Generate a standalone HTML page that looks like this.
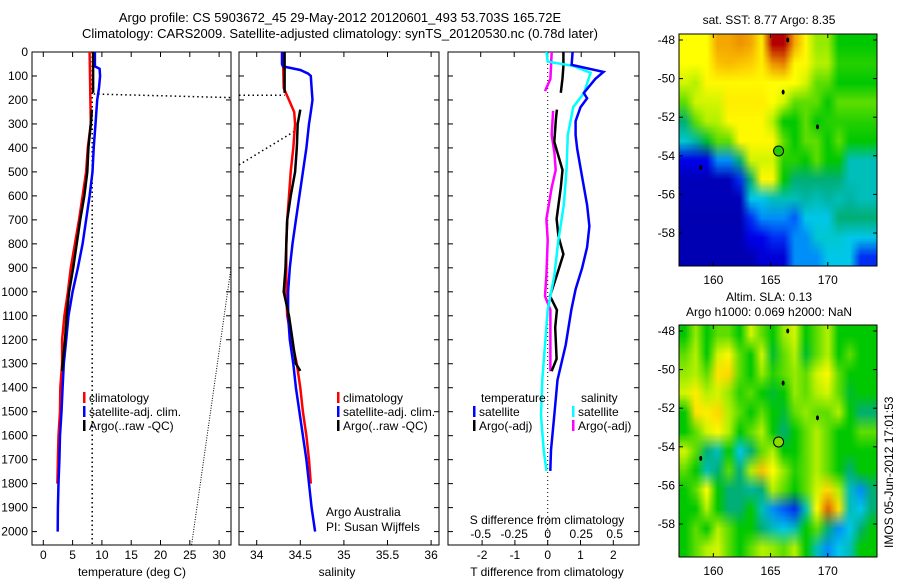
<!DOCTYPE html>
<html><head><meta charset="utf-8"><style>
html,body{margin:0;padding:0;background:#fff;}
#wrap{position:relative;width:900px;height:580px;overflow:hidden;font-family:"Liberation Sans",sans-serif;}
canvas{position:absolute;}
svg{position:absolute;left:0;top:0;}
svg text{font-family:"Liberation Sans",sans-serif;font-size:12px;fill:#000;}
</style></head><body>
<div id="wrap">
<canvas id="sstMap" style="left:679px;top:34px;width:198px;height:232px" width="198" height="232"></canvas>
<canvas id="slaMap" style="left:679px;top:325px;width:198px;height:232px" width="198" height="232"></canvas>
<svg id="fig" width="900" height="580" xmlns="http://www.w3.org/2000/svg"></svg>
</div>
<script>
// ---------- data ----------
const depthTicks = [0,100,200,300,400,500,600,700,800,900,1000,1100,1200,1300,1400,1500,1600,1700,1800,1900,2000];
const tempTicks = [0,5,10,15,20,25,30];
const salTicks = [34,34.5,35,35.5,36];
const salTickLabels = ["34","34.5","35","35.5","36"];
const tdiffTicks = [-2,-1,0,1,2];
const sdiffTicks = [-0.5,-0.25,0,0.25,0.5];
const sdiffTickLabels = ["-0.5","-0.25","0","0.25","0.5"];
const mapLatTicks = [-48,-50,-52,-54,-56,-58];
const mapLonTicks = [160,165,170];

const climTempDepth = [0,300,400,500,600,700,800,900,1000,1100,1200,1300,1400,1500,1600,1700,1800];
const climTemp = [7.9,8.1,7.6,7.3,6.7,6.1,5.4,4.7,4.2,3.6,3.2,3.2,2.9,2.85,2.6,2.5,2.4];
const satTempDepth = [0,60,70,100,150,200,300,400,500,600,700,800,900,1000,1100,1200,1300,1400,1500,1600,1700,1800,1900,2000];
const satTemp = [8.8,8.8,9.6,9.7,9.5,9.2,8.9,8.6,8.4,7.9,7.3,6.7,5.9,5.0,4.3,3.9,3.5,3.3,3.1,2.85,2.75,2.6,2.5,2.45];
const argoTempDepthA = [0,170];
const argoTempA = [8.5,8.5];
const argoTempDepthB = [240,300,400,500,600,700,800,900,1000,1100,1200,1300,1330];
const argoTempB = [8.3,8.1,7.7,7.5,7.0,6.3,5.7,5.1,4.4,4.0,3.7,3.3,3.2];

const climSalDepth = [0,150,200,250,300,400,500,600,700,800,900,1000,1100,1200,1300,1400,1500,1600,1700,1800];
const climSal = [34.30,34.31,34.37,34.43,34.44,34.42,34.39,34.37,34.35,34.34,34.34,34.34,34.35,34.40,34.46,34.50,34.53,34.57,34.60,34.62];
const satSalDepth = [0,50,60,75,90,100,150,200,250,300,400,500,600,700,800,900,1000,1100,1200,1300,1400,1500,1600,1700,1800,1900,2000];
const satSal = [34.29,34.29,34.30,34.50,34.59,34.62,34.63,34.64,34.62,34.60,34.57,34.53,34.49,34.45,34.41,34.38,34.36,34.36,34.38,34.42,34.45,34.49,34.53,34.57,34.60,34.63,34.67];
const argoSalDepthA = [0,170];
const argoSalA = [34.32,34.32];
const argoSalDepthB = [240,300,400,500,600,700,800,900,1000,1100,1200,1300,1330];
const argoSalB = [34.50,34.47,34.46,34.44,34.39,34.35,34.34,34.33,34.31,34.37,34.41,34.45,34.50];

const tdSatDepth = [0,54,83,112,171,193,230,288,346,404,521,638,726,814,901,989,1076,1222,1368,1514,1660,1747];
const tdSat = [0.76,0.73,1.70,1.45,1.10,1.20,1.00,0.85,0.85,0.90,1.05,1.20,1.27,1.20,1.05,0.85,0.72,0.55,0.30,0.20,0.10,0.08];
const sdSatDepth = [0,40,58,87,171,230,346,492,638,784,930,1076,1222,1368,1514,1660,1747];
const sdSat = [-0.01,0.0,0.19,0.32,0.27,0.19,0.15,0.14,0.12,0.08,0.05,0.0,-0.02,-0.04,-0.05,-0.03,-0.01];
const tdArgoDepthA = [0,60,110,170];
const tdArgoA = [0.48,0.48,0.45,0.40];
const tdArgoDepthB = [240,280,375,492,565,696,770,843,930,1018,1076,1149,1280,1331];
const tdArgoB = [0.28,0.25,0.20,0.45,0.40,0.27,0.33,0.48,0.28,0.07,0.28,0.23,0.27,0.12];
const sdArgoDepthA = [0,112,163];
const sdArgoA = [0.03,0.02,-0.02];
const sdArgoDepthB = [245,346,419,492,565,696,784,930,1018,1076,1222,1331];
const sdArgoB = [0.04,0.03,0.05,0.06,0.03,-0.01,0.0,-0.01,-0.02,0.02,0.02,0.02];

const sstGrid = [
[0.65,0.65,0.65,0.78,0.78,0.80,0.78,0.68,0.95,0.95,0.78,0.66,0.58,0.58,0.50,0.50,0.50,0.50],
[0.65,0.65,0.65,0.75,0.76,0.75,0.74,0.68,0.80,0.82,0.66,0.66,0.60,0.60,0.52,0.52,0.52,0.52],
[0.62,0.60,0.66,0.66,0.66,0.66,0.66,0.66,0.65,0.65,0.65,0.62,0.55,0.55,0.50,0.50,0.50,0.50],
[0.55,0.62,0.62,0.62,0.68,0.68,0.68,0.68,0.65,0.62,0.55,0.55,0.55,0.50,0.55,0.55,0.55,0.55],
[0.45,0.55,0.60,0.60,0.66,0.66,0.66,0.66,0.60,0.50,0.50,0.55,0.50,0.52,0.52,0.52,0.52,0.52],
[0.38,0.42,0.48,0.55,0.55,0.66,0.66,0.66,0.66,0.55,0.50,0.55,0.55,0.50,0.55,0.50,0.50,0.50],
[0.15,0.15,0.15,0.30,0.30,0.45,0.62,0.62,0.62,0.52,0.52,0.50,0.55,0.50,0.50,0.40,0.40,0.40],
[0.08,0.08,0.08,0.08,0.08,0.20,0.45,0.66,0.66,0.50,0.45,0.45,0.45,0.45,0.45,0.40,0.40,0.40],
[0.08,0.08,0.08,0.08,0.08,0.08,0.35,0.35,0.40,0.40,0.40,0.42,0.40,0.42,0.40,0.42,0.40,0.40],
[0.07,0.07,0.07,0.07,0.07,0.07,0.20,0.30,0.30,0.30,0.25,0.35,0.35,0.35,0.45,0.45,0.45,0.45],
[0.07,0.07,0.07,0.07,0.07,0.07,0.15,0.15,0.20,0.20,0.30,0.30,0.38,0.38,0.38,0.35,0.35,0.35],
[0.07,0.07,0.07,0.07,0.07,0.07,0.07,0.12,0.12,0.12,0.30,0.30,0.30,0.35,0.35,0.35,0.20,0.20]];
const slaGrid = [
[0.50,0.58,0.50,0.55,0.55,0.50,0.62,0.55,0.50,0.58,0.62,0.50,0.55,0.60,0.50,0.50,0.50,0.50],
[0.55,0.60,0.50,0.62,0.66,0.55,0.50,0.62,0.48,0.55,0.60,0.48,0.55,0.60,0.50,0.55,0.50,0.50],
[0.58,0.60,0.55,0.70,0.72,0.55,0.50,0.58,0.52,0.55,0.58,0.55,0.62,0.66,0.55,0.50,0.50,0.50],
[0.62,0.68,0.60,0.62,0.58,0.52,0.55,0.50,0.48,0.50,0.58,0.55,0.60,0.62,0.55,0.48,0.50,0.50],
[0.50,0.70,0.68,0.72,0.60,0.55,0.50,0.55,0.50,0.48,0.55,0.58,0.55,0.55,0.60,0.50,0.45,0.45],
[0.50,0.55,0.62,0.66,0.60,0.50,0.55,0.60,0.50,0.45,0.50,0.55,0.60,0.55,0.50,0.50,0.55,0.55],
[0.62,0.55,0.45,0.40,0.50,0.35,0.45,0.55,0.60,0.50,0.50,0.55,0.60,0.55,0.50,0.50,0.50,0.50],
[0.55,0.50,0.40,0.45,0.55,0.45,0.60,0.75,0.65,0.58,0.52,0.55,0.60,0.55,0.50,0.45,0.50,0.50],
[0.50,0.55,0.65,0.50,0.45,0.45,0.42,0.45,0.60,0.55,0.50,0.55,0.62,0.72,0.60,0.40,0.30,0.45],
[0.50,0.50,0.60,0.50,0.45,0.45,0.50,0.40,0.30,0.25,0.20,0.40,0.65,0.85,0.70,0.40,0.35,0.45],
[0.50,0.55,0.50,0.60,0.55,0.50,0.50,0.45,0.40,0.35,0.40,0.50,0.55,0.45,0.30,0.35,0.45,0.50],
[0.50,0.55,0.60,0.62,0.55,0.50,0.55,0.60,0.58,0.55,0.60,0.50,0.40,0.30,0.35,0.40,0.50,0.50]];
const floatLon = 165.7, floatLat = -53.75;
const islandLon = [166.1,169.1,158.9,166.5];
const islandLat = [-50.7,-52.5,-54.6,-48.0];

// ---------- geometry ----------
const NS='http://www.w3.org/2000/svg';
const svg=document.getElementById('fig');
const TOP=52, BOT=545;
const yD = d => 52 + d*0.2398;
const P1={l:32,r:231}, P2={l:239,r:439}, P3={l:448,r:639};
const xT = t => 43.3 + 5.86*t;
const xS = s => 256.7 + 87.2*(s-34);
const xTd = t => 547.7 + 32.8*t;
const xSd = s => 547.7 + 134*s;
const M={l:679,r:877,lon0:157,lon1:174.3};
const mx = lon => M.l + (lon-M.lon0)*(M.r-M.l)/(M.lon1-M.lon0);
const my = (top,lat) => top + 6 + (-48-lat)*19.3;

function el(tag,attrs,parent){const e=document.createElementNS(NS,tag);for(const k in attrs)e.setAttribute(k,attrs[k]);(parent||svg).appendChild(e);return e;}
function txt(x,y,s,anchor,name,size){const t=el('text',{x:x,y:y,'text-anchor':anchor||'start'});if(size)t.setAttribute('style','font-size:'+size+'px');t.textContent=s;


return t;}
function line(xs,ys,color,w,dash,name){const pts=xs.map((x,i)=>x.toFixed(1)+','+ys[i].toFixed(1)).join(' ');
const p=el('polyline',{points:pts,fill:'none',stroke:color,'stroke-width':w});if(dash)p.setAttribute('stroke-dasharray',dash);


return p;}

// titles
txt(340,22,'Argo profile: CS 5903672_45 29-May-2012 20120601_493 53.703S 165.72E','middle','title-line-1',13);
txt(340,38,'Climatology: CARS2009. Satellite-adjusted climatology: synTS_20120530.nc (0.78d later)','middle','title-line-2',13);

// panel frames and depth ticks
[[P1,'temperature-panel'],[P2,'salinity-panel'],[P3,'difference-panel']].forEach(([p,n])=>{
  const r=el('rect',{x:p.l,y:TOP,width:p.r-p.l,height:BOT-TOP,fill:'none',stroke:'#000','stroke-width':1});
  
  
  depthTicks.forEach(d=>{const y=yD(d);
    el('line',{x1:p.l,x2:p.l+5,y1:y,y2:y,stroke:'#000'});el('line',{x1:p.r-5,x2:p.r,y1:y,y2:y,stroke:'#000'});});
});
depthTicks.forEach(d=>txt(28,yD(d)+4,String(d),'end','depth-tick-label'));
function xticks(vals,fx,labels,ly,name,top){vals.forEach((v,i)=>{const x=fx(v);
  el('line',{x1:x,x2:x,y1:BOT,y2:BOT-5,stroke:'#000'});if(top)el('line',{x1:x,x2:x,y1:TOP,y2:TOP+5,stroke:'#000'});
  txt(x,ly,labels?labels[i]:String(v),'middle',name);});}
xticks(tempTicks,xT,null,559,'temp-tick-label',true);
xticks(salTicks,xS,salTickLabels,559,'sal-tick-label',true);
xticks(tdiffTicks,xTd,null,559,'tdiff-tick-label',false);
sdiffTicks.forEach((v,i)=>{const x=xSd(v);el('line',{x1:x,x2:x,y1:TOP,y2:TOP+5,stroke:'#000'});txt(x,538,sdiffTickLabels[i],'middle','sdiff-tick-label');});
txt(132,576,'temperature (deg C)','middle','temp-axis-title');
txt(337,576,'salinity','middle','sal-axis-title');
txt(547,576,'T difference from climatology','middle','tdiff-axis-title');
txt(547,524,'S difference from climatology','middle','sdiff-axis-title');

// panel 1
line([xT(8.35),xT(8.35)],[TOP,BOT],'#000',1.5,'1.5,3','argo-sst-reference-line');
line([xT(8.6),P1.r],[yD(175),yD(190)],'#000',1.5,'1.5,3','sst-dotted-line');
line([xT(25.3),P1.r],[yD(2055),yD(900)],'#000',1,'1,1.5','sigma-dotted-line');
line(climTemp.map(xT),climTempDepth.map(yD),'#ff0000',2.5,null,'climatology-temp-line');
line(satTemp.map(xT),satTempDepth.map(yD),'#0000ff',2.5,null,'satellite-temp-line');
line(argoTempA.map(xT),argoTempDepthA.map(yD),'#000',2.5,null,'argo-temp-line-upper');
line(argoTempB.map(xT),argoTempDepthB.map(yD),'#000',2.5,null,'argo-temp-line');

// panel 2
line([P2.l,xS(34.32)],[yD(180),yD(180)],'#000',1.5,'1.5,3','sal-dotted-line');
line([P2.l,xS(34.46)],[yD(471),yD(325)],'#000',1.5,'1.5,3','sal-dotted-diagonal');
line(climSal.map(xS),climSalDepth.map(yD),'#ff0000',2.5,null,'climatology-sal-line');
line(satSal.map(xS),satSalDepth.map(yD),'#0000ff',2.5,null,'satellite-sal-line');
line(argoSalA.map(xS),argoSalDepthA.map(yD),'#000',2.5,null,'argo-sal-line-upper');
line(argoSalB.map(xS),argoSalDepthB.map(yD),'#000',2.5,null,'argo-sal-line');

// panel 3
line([xTd(0),xTd(0)],[TOP,BOT],'#000',1,'1,3','zero-line');
line(sdArgoA.map(xSd),sdArgoDepthA.map(yD),'#ff00ff',2.5,null,'argo-sdiff-line-upper');
line(sdArgoB.map(xSd),sdArgoDepthB.map(yD),'#ff00ff',2.5,null,'argo-sdiff-line');
line(tdArgoA.map(xTd),tdArgoDepthA.map(yD),'#000',2.5,null,'argo-tdiff-line-upper');
line(tdArgoB.map(xTd),tdArgoDepthB.map(yD),'#000',2.5,null,'argo-tdiff-line');
line(sdSat.map(xSd),sdSatDepth.map(yD),'#00ffff',2.5,null,'satellite-sdiff-line');
line(tdSat.map(xTd),tdSatDepth.map(yD),'#0000ff',2.5,null,'satellite-tdiff-line');

// legends
function legend(x,y,items,name){items.forEach((it,i)=>{const yy=y+i*14;
  if(it[1]){const b=el('rect',{x:x,y:yy-10,width:2.5,height:11,fill:it[1]});}
  txt(x+6,yy,it[0],'start',name+'-entry');});}
legend(83,402,[['climatology','#ff0000'],['satellite-adj. clim.','#0000ff'],['Argo(..raw -QC)','#000']],'temp-legend');
legend(337,402,[['climatology','#ff0000'],['satellite-adj. clim.','#0000ff'],['Argo(..raw -QC)','#000']],'sal-legend');
txt(481,402,'temperature','start','tdiff-legend-title');
legend(473,416,[['satellite','#0000ff'],['Argo(-adj)','#000']],'tdiff-legend');
txt(581,402,'salinity','start','sdiff-legend-title');
legend(572,416,[['satellite','#00ffff'],['Argo(-adj)','#ff00ff']],'sdiff-legend');
txt(326,516,'Argo Australia','start','credit-line-1');
txt(326,531,'PI: Susan Wijffels','start','credit-line-2');

// maps
const cmapStops=[[0,[0,0,128]],[0.15,[0,0,235]],[0.28,[0,120,255]],[0.36,[0,210,230]],[0.44,[0,170,140]],[0.5,[0,200,0]],[0.58,[150,235,0]],[0.65,[255,255,0]],[0.74,[255,205,0]],[0.83,[230,120,0]],[0.95,[180,0,0]],[1,[150,0,0]]];
function cmap(v){v=Math.max(0,Math.min(1,v));
  for(let i=1;i<cmapStops.length;i++){const a=cmapStops[i-1],b=cmapStops[i];if(v<=b[0]){const f=(v-a[0])/(b[0]-a[0]);return a[1].map((c,k)=>Math.round(c+(b[1][k]-c)*f));}}
  return cmapStops[cmapStops.length-1][1];}
function drawMap(id,grid,smooth){const c=document.getElementById(id),ctx=c.getContext('2d');
  const rows=grid.length,cols=grid[0].length;const s=document.createElement('canvas');s.width=cols;s.height=rows;
  const sc=s.getContext('2d'),im=sc.createImageData(cols,rows);
  grid.forEach((row,j)=>row.forEach((v,i)=>{const k=(j*cols+i)*4,cl=cmap(v);im.data[k]=cl[0];im.data[k+1]=cl[1];im.data[k+2]=cl[2];im.data[k+3]=255;}));
  sc.putImageData(im,0,0);ctx.imageSmoothingEnabled=smooth;ctx.drawImage(s,0,0,c.width,c.height);}
drawMap('sstMap',sstGrid,true);
drawMap('slaMap',slaGrid,true);

[[34,'sst'],[325,'sla']].forEach(([top,n])=>{
  const r=el('rect',{x:M.l,y:top,width:M.r-M.l,height:232,fill:'none',stroke:'#000'});
  
  
  mapLatTicks.forEach(lat=>{const y=my(top,lat);el('line',{x1:M.l,x2:M.l+4,y1:y,y2:y,stroke:'#000'});el('line',{x1:M.r-4,x2:M.r,y1:y,y2:y,stroke:'#000'});txt(675,y+4,String(lat),'end',n+'-lat-label');});
  mapLonTicks.forEach(lon=>{const x=mx(lon);el('line',{x1:x,x2:x,y1:top,y2:top+4,stroke:'#000'});el('line',{x1:x,x2:x,y1:top+232,y2:top+228,stroke:'#000'});txt(x,top+250,String(lon),'middle',n+'-lon-label');});
  islandLon.forEach((lon,i)=>{const e=el('ellipse',{cx:mx(lon),cy:my(top,islandLat[i]),rx:1.5,ry:2.5,fill:'#000'});
    
    });
  const c=el('circle',{cx:mx(floatLon),cy:my(top,floatLat),r:5,fill:n==='sst'?'#22cc00':'#88dd00',stroke:'#000','stroke-width':1});
  
  
});
txt(769,24,'sat. SST: 8.77 Argo: 8.35','middle','sst-map-title');
txt(769,301,'Altim. SLA: 0.13','middle','sla-map-title');
txt(769,316,'Argo h1000: 0.069 h2000: NaN','middle','sla-map-subtitle');
const v=txt(0,0,'IMOS 05-Jun-2012 17:01:53','start','timestamp-label');
v.setAttribute('transform','translate(893,548) rotate(-90)');
</script>
</body></html>
